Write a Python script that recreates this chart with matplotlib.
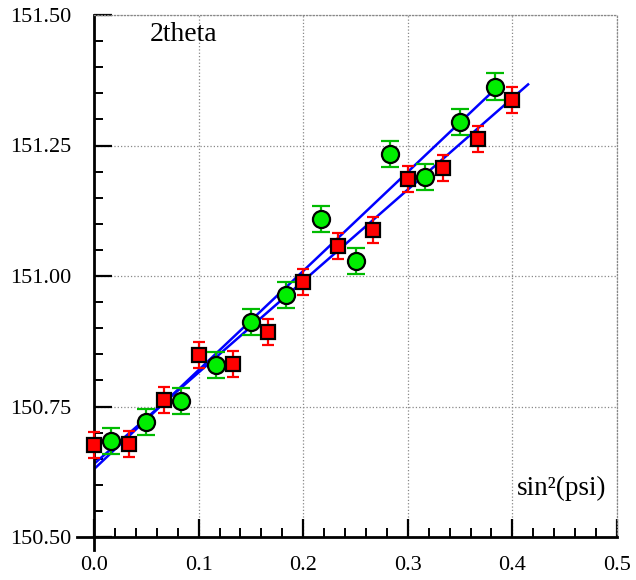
import numpy as np
import matplotlib
matplotlib.use('Agg')
import matplotlib.pyplot as plt
from matplotlib.ticker import MultipleLocator, FormatStrFormatter
from matplotlib.lines import Line2D

plt.rcParams['font.family'] = ['Liberation Serif', 'DejaVu Serif']

# red squares (sin^2 psi, 2theta)
red_x = [0.0, 0.0333, 0.0667, 0.1, 0.1333, 0.1667, 0.2, 0.2333, 0.2667, 0.3, 0.3333, 0.3667, 0.4]
red_y = [150.676, 150.679, 150.762, 150.848, 150.832, 150.892, 150.989, 151.057, 151.088,
         151.186, 151.207, 151.262, 151.337]
red_err = [0.025] * 13

# green circles
green_x = [0.0167, 0.05, 0.0833, 0.1167, 0.15, 0.1833, 0.2167, 0.25, 0.2833, 0.3167, 0.35, 0.3833]
green_y = [150.684, 150.720, 150.761, 150.829, 150.912, 150.963, 151.110, 151.028, 151.233,
           151.190, 151.295, 151.363]
green_err = [0.025] * 12

# fitted lines (end points)
fit_red_x = [0.0, 0.415]
fit_red_y = [150.640, 151.367]
fit_green_x = [0.0, 0.383]
fit_green_y = [150.630, 151.357]

fig = plt.figure(figsize=(6.36, 5.80), dpi=100)
ax = fig.add_axes([94/636, 1-537/580, 523/636, 522/580])

ax.set_xlim(0, 0.5)
ax.set_ylim(150.5, 151.5)

ax.plot(fit_red_x, fit_red_y, color='#0000ff', lw=1.8, zorder=2)
ax.plot(fit_green_x, fit_green_y, color='#0000ff', lw=1.8, zorder=2)

ax.errorbar(red_x, red_y, yerr=red_err, fmt='s', ms=9.5, mfc='#ff0000', mec='black', mew=1.6,
            ecolor='#ff0000', elinewidth=1.6, capsize=4.6, capthick=1.6, zorder=3, clip_on=False)
ax.errorbar(green_x, green_y, yerr=green_err, fmt='o', ms=12.3, mfc='#00ee00', mec='black', mew=1.6,
            ecolor='#00bb00', elinewidth=1.6, capsize=6.8, capthick=1.6, zorder=4, clip_on=False)

ax.xaxis.set_major_locator(MultipleLocator(0.1))
ax.xaxis.set_minor_locator(MultipleLocator(0.02))
ax.yaxis.set_major_locator(MultipleLocator(0.25))
ax.yaxis.set_minor_locator(MultipleLocator(0.05))
ax.xaxis.set_major_formatter(FormatStrFormatter('%.1f'))
ax.yaxis.set_major_formatter(FormatStrFormatter('%.2f'))

ax.tick_params(which='major', direction='in', length=13, width=1.6, labelsize=16)
ax.tick_params(which='minor', direction='in', length=6.5, width=1.4)
ax.tick_params(axis='x', which='major', pad=14)
ax.tick_params(axis='y', which='major', pad=16)
ax.tick_params(top=False, right=False, which='both')

ax.grid(True, which='major', color='#888888', linestyle=':', linewidth=0.9, zorder=0)
ax.set_axisbelow(True)

for s in ['top', 'right']:
    ax.spines[s].set_color('#888888')
    ax.spines[s].set_linestyle(':')
    ax.spines[s].set_linewidth(0.9)
for s in ['left', 'bottom']:
    ax.spines[s].set_linewidth(2)

# small extensions of the axis lines beyond the origin
ax.add_line(Line2D([-17/523, 0], [0, 0], transform=ax.transAxes, color='black', lw=2, clip_on=False))
ax.add_line(Line2D([0, 0], [-13/522, 0], transform=ax.transAxes, color='black', lw=2, clip_on=False))

ax.text(150/636, 1-41/580, '2theta', transform=fig.transFigure, fontsize=20, ha='left', va='baseline')
ax.text(606/636, 1-495/580, 'sin²(psi)', transform=fig.transFigure, fontsize=19.5, ha='right', va='baseline')

fig.savefig('out.png', dpi=100)
